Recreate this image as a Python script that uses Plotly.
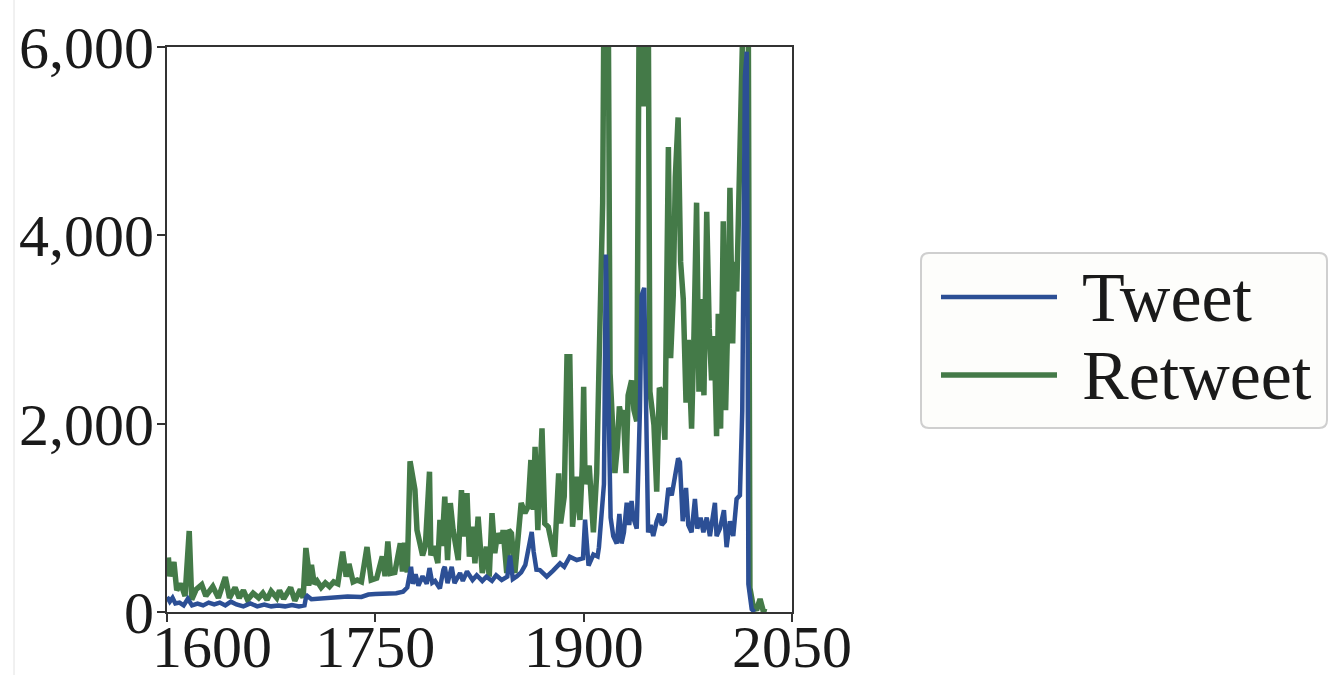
import plotly.graph_objects as go

# ---------------- data ----------------
tweet_years = [1600, 1602, 1604, 1606, 1609, 1612, 1615, 1618, 1622, 1626, 1630, 1634, 1638, 1642,
               1646, 1650, 1655, 1660, 1665, 1670, 1675, 1680, 1685, 1690, 1695, 1699, 1700, 1701,
               1704, 1710, 1720, 1730, 1740, 1745, 1750, 1758, 1765, 1770, 1773, 1775.7, 1777, 1779,
               1781, 1784, 1787, 1789, 1791, 1793, 1795, 1796.5, 1799, 1800, 1802, 1805, 1807, 1811,
               1813, 1816, 1820, 1823, 1827, 1830, 1834, 1837, 1841, 1845, 1847, 1849, 1852, 1855,
               1858, 1860, 1862.6, 1864, 1866, 1868.5, 1873.4, 1878, 1883, 1886, 1890, 1895, 1899.5,
               1901, 1903.5, 1907, 1910, 1911, 1914.6, 1916, 1917.7, 1919.4, 1921.3, 1923.8, 1925.7,
               1927.3, 1929, 1931, 1932.8, 1934.5, 1935.7, 1938.2, 1940.5, 1941.7, 1943.6, 1945.4,
               1946.4, 1948.2, 1950.1, 1952.6, 1954.5, 1956.2, 1958.5, 1961, 1963.4, 1965.7, 1968,
               1969.3, 1971.3, 1973.7, 1975.3, 1977.7, 1980.1, 1981.8, 1984.2, 1986.2, 1988.6, 1990.9,
               1994.5, 1995.7, 1998.1, 2001, 2002.9, 2005.3, 2007.7, 2010.1, 2012.5, 2014.2, 2016.1,
               2017.4, 2018.6, 2021, 2023]
tweet_values = [160, 110, 150, 90, 100, 70, 140, 70, 90, 70, 100, 80, 100, 70,
                110, 80, 60, 90, 60, 80, 60, 70, 60, 75, 60, 70, 150, 170,
                135, 140, 150, 165, 160, 185, 190, 195, 200, 216, 260, 480, 300, 400,
                280, 380, 300, 467, 310, 330, 280, 250, 450, 480, 307, 480, 307, 414,
                330, 430, 340, 390, 330, 375, 330, 390, 340, 375, 600, 350, 380, 420,
                500, 650, 850, 640, 450, 445, 375, 440, 517, 480, 587, 552, 570,
                980, 492, 610, 590, 688, 1357, 3796, 2301, 1003, 806, 728, 1042,
                728, 846, 1160, 924, 1180, 1003, 885, 2144, 3363, 3442, 1947,
                846, 924, 806, 964, 1042, 924, 964, 1318, 1239, 1436, 1632,
                1593, 964, 1318, 924, 846, 1200, 885, 1003, 846, 1003, 806,
                1160, 806, 885, 1082, 688, 964, 806, 1200, 1239, 2144, 5685,
                5950, 295, 30, 0]

retweet_years = [1601, 1602, 1605, 1607, 1610, 1613, 1616, 1617.8, 1621, 1625, 1628, 1633, 1637, 1642,
                 1645, 1649, 1652, 1655, 1658, 1662, 1666, 1669, 1672, 1675, 1679, 1681, 1684, 1689,
                 1692, 1696, 1698, 1700, 1701.7, 1702, 1704, 1706, 1708, 1711, 1714, 1717, 1720, 1723,
                 1726.5, 1729, 1731, 1734, 1737, 1740, 1744, 1747, 1751, 1755, 1757, 1759, 1761, 1764,
                 1768, 1769.5, 1771, 1773, 1775, 1776.5, 1778.5, 1780, 1782, 1784, 1786, 1789, 1790,
                 1792, 1795, 1796.5, 1798, 1800, 1802, 1804, 1806, 1809.7, 1812, 1814, 1816, 1817.7,
                 1820, 1821.7, 1824, 1827, 1830, 1832, 1834, 1836, 1838, 1841, 1842, 1844.6, 1846,
                 1848, 1850.5, 1852, 1855, 1857.7, 1860, 1862, 1863.7, 1865, 1867, 1870, 1872, 1874.5,
                 1877, 1879, 1882, 1883.4, 1886, 1888, 1890, 1892, 1895, 1897.3, 1899, 1900, 1901,
                 1904, 1907, 1909.4, 1911, 1913.7, 1914.6, 1917.7, 1919, 1921.3, 1922.5, 1924.2,
                 1925.7, 1927.3, 1928.5, 1930.5, 1932, 1934.5, 1936.2, 1938.2, 1940, 1941.7, 1943,
                 1944.1, 1946.5, 1947.7, 1949, 1950.6, 1952.6, 1954.5, 1956.2, 1958.5, 1961, 1962.6,
                 1964.5, 1966, 1968, 1969.8, 1971.7, 1973.7, 1975.3, 1977.7, 1979.4, 1981.3, 1983,
                 1985, 1986.6, 1988.6, 1990.4, 1992.1, 1994, 1995.7, 1996.9, 1998.6, 2000.5, 2002.2,
                 2004.1, 2005.3, 2007.3, 2008.5, 2010.2, 2012, 2013.7, 2015, 2018.5, 2019.7, 2022.1,
                 2024.5, 2027, 2029.3, 2031.7]
retweet_values = [580, 380, 530, 230, 300, 170, 860, 130, 240, 290, 170, 270, 150, 370,
                  150, 260, 150, 230, 130, 200, 150, 200, 130, 220, 150, 230, 140, 260,
                  120, 240, 150, 680, 480, 280, 500, 300, 330, 260, 310, 270, 320, 300,
                  640, 375, 510, 320, 340, 320, 690, 340, 360, 590, 380, 750, 410, 420,
                  730, 430, 735, 420, 1600, 1450, 1300, 870, 750, 600, 700, 1490, 600,
                  700, 520, 977, 700, 1224, 552, 1157, 870, 552, 1295, 800, 1263, 587,
                  906, 517, 1012, 414, 693, 375, 1050, 626, 835, 730, 870, 414, 870,
                  835, 414, 626, 1157, 1050, 1120, 1614, 1085, 1755, 870, 1950, 940, 905,
                  730, 587, 1472, 940, 1225, 2710, 2710, 905, 1436, 977, 1550, 2392, 1357,
                  1554, 846, 1475, 2577, 4347, 6500, 6500, 2537, 1947, 1475, 1750,
                  2183, 2065, 2144, 1475, 2301, 2459, 2144, 2026, 6500, 6500, 5370,
                  6500, 6500, 2340, 2144, 1986, 1278, 2380, 2340, 1829, 4937, 2695,
                  3363, 4622, 5252, 3718, 3324, 2223, 2891, 1947, 2931, 4347, 2340,
                  3324, 2301, 4249, 3009, 2459, 2931, 1868, 3167, 1947, 4150, 2144,
                  3324, 4504, 2852, 3718, 3403, 4700, 5300, 6500, 6500, 256, 59,
                  20, 138, 10, 0]

x_tick_vals = [1600, 1750, 1900, 2050]
x_tick_text = ["\u00a0" * 6 + "1600", "1750", "1900", "2050"]
y_tick_vals = [0, 2000, 4000, 6000]
y_tick_text = ["0", "2,000", "4,000", "6,000"]
series_names = ["Tweet", "Retweet"]

# ---------------- styling ----------------
W, H = 1332, 675
L, R, T, B = 167, 792, 47, 612          # plot area in pixels
BLUE = "#2c4f95"
GREEN = "#447a48"
FONT = "Liberation Serif"


def px2paper(px, py):
    return (px - L) / (R - L), (B - py) / (B - T)


fig = go.Figure()
fig.add_trace(go.Scatter(x=retweet_years, y=retweet_values, mode="lines", name=series_names[1],
                         line=dict(color=GREEN, width=5.5), showlegend=False))
fig.add_trace(go.Scatter(x=tweet_years, y=tweet_values, mode="lines", name=series_names[0],
                         line=dict(color=BLUE, width=4.5), showlegend=False))

axis_common = dict(showgrid=False, zeroline=False, showline=True, linecolor="#333333", linewidth=2,
                   mirror=True, ticks="outside", ticklen=8, tickwidth=2, tickcolor="#333333",
                   tickfont=dict(family=FONT, size=60, color="#1a1a1a"))
fig.update_xaxes(range=[1600, 2050], tickvals=x_tick_vals, ticktext=x_tick_text,
                 ticklabelstandoff=-27, **axis_common)
fig.update_yaxes(range=[0, 6000], tickvals=y_tick_vals, ticktext=y_tick_text,
                 ticklabelstandoff=-9, **axis_common)

# ---- hand-drawn legend box (matches the reference's wide legend) ----
shapes = []
x0, y0 = px2paper(921, 428)
x1, y1 = px2paper(1327, 253)
rx, ry = 8 / (R - L), 8 / (B - T)
path = (f"M {x0+rx},{y0} L {x1-rx},{y0} Q {x1},{y0} {x1},{y0+ry} L {x1},{y1-ry} "
        f"Q {x1},{y1} {x1-rx},{y1} L {x0+rx},{y1} Q {x0},{y1} {x0},{y1-ry} L {x0},{y0+ry} "
        f"Q {x0},{y0} {x0+rx},{y0} Z")
shapes.append(dict(type="path", xref="paper", yref="paper", path=path,
                   line=dict(color="#cfcfcf", width=2), fillcolor="#fdfdfb", layer="below"))
annotations = []
for name, color, lw, py in [(series_names[0], BLUE, 4.5, 297), (series_names[1], GREEN, 5.5, 375)]:
    a, yy = px2paper(941, py)
    b, _ = px2paper(1057, py)
    shapes.append(dict(type="line", xref="paper", yref="paper", x0=a, x1=b, y0=yy, y1=yy,
                       line=dict(color=color, width=lw)))
    tx, _ = px2paper(1080, py)
    annotations.append(dict(x=tx, y=yy, xref="paper", yref="paper", text=name, showarrow=False,
                            xanchor="left", yanchor="middle",
                            font=dict(family=FONT, size=70, color="#1a1a1a")))

# faint scan border line at the far left of the reference
bx, _ = px2paper(14, 0)
shapes.append(dict(type="line", xref="paper", yref="paper", x0=bx, x1=bx,
                   y0=(B - H) / (B - T), y1=B / (B - T), line=dict(color="#e2e2e2", width=1)))

fig.update_layout(width=W, height=H, plot_bgcolor="white", paper_bgcolor="white",
                  margin=dict(l=L, r=W - R, t=T, b=H - B, autoexpand=False),
                  shapes=shapes, annotations=annotations, showlegend=False)

fig.write_html("out.html")
